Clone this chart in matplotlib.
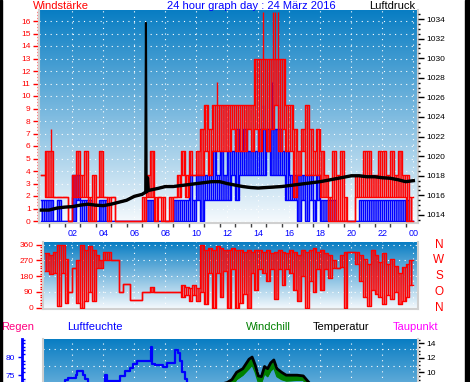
import numpy as np
import matplotlib
matplotlib.use('Agg')
import matplotlib.pyplot as plt
from matplotlib.ticker import MultipleLocator, FixedLocator
from matplotlib.patches import Rectangle
import matplotlib.transforms as mtransforms

plt.rcParams['font.family'] = ['Liberation Sans', 'DejaVu Sans']
plt.rcParams['hatch.linewidth'] = 1.15

# ---------------- DATA ----------------
# 15-minute bins (00:00 .. 23:45): typical high and low reading inside each bin
bin_hours = [k / 4 for k in range(96)]

gust_hi = [3.7, 5.6, 5.6, 1.9, 1.9, 1.9, 1.9, 0, 3.7, 5.6, 3.7, 5.6,
           1.9, 3.7, 1.9, 5.6, 1.9, 1.9, 1.9, 0, 0, 0, 0, 0,
           0, 0, 1.9, 3.7, 5.6, 1.9, 1.9, 1.9, 0, 1.9, 1.9, 3.7,
           5.6, 3.7, 5.6, 3.7, 5.6, 7.4, 9.3, 7.4, 9.3, 9.3, 9.3, 9.3,
           9.3, 9.3, 9.3, 9.3, 9.3, 9.3, 9.3, 13.0, 13.0, 13.0, 13.0, 13.0,
           13.0, 13.0, 13.0, 9.3, 9.3, 7.4, 5.6, 7.4, 9.3, 7.4, 5.6, 7.4,
           5.6, 3.7, 1.9, 5.6, 3.7, 5.6, 1.9, 0, 0, 3.7, 3.7, 5.6,
           5.6, 3.7, 3.7, 5.6, 5.6, 3.7, 5.6, 3.7, 5.6, 3.7, 3.7, 1.9]
gust_lo = [3.7, 1.9, 1.9, 1.9, 1.9, 1.9, 1.9, 0, 1.9, 1.9, 1.9, 1.9,
           0, 0, 1.9, 1.9, 1.9, 0, 1.9, 0, 0, 0, 0, 0,
           0, 0, 0, 1.9, 1.9, 0, 1.9, 0, 0, 0, 1.9, 1.9,
           3.7, 1.9, 3.7, 3.7, 3.7, 3.7, 5.6, 3.7, 5.6, 5.6, 5.6, 5.6,
           5.6, 7.4, 5.6, 5.6, 5.6, 7.4, 5.6, 7.4, 5.6, 7.4, 5.6, 7.4,
           9.3, 5.6, 7.4, 5.6, 5.6, 1.9, 3.7, 5.6, 3.7, 3.7, 3.7, 3.7,
           1.9, 1.9, 0, 0, 0, 0, 0, 0, 0, 1.9, 1.9, 1.9,
           1.9, 1.9, 1.9, 1.9, 1.9, 1.9, 1.9, 1.9, 1.9, 1.9, 0, 0]
# single short gust peaks
gust_peak_hours = [0.63, 11.35, 14.3, 14.95, 15.05, 15.25]
gust_peak_vals = [7.4, 11.1, 16.7, 16.7, 16.7, 16.7]

avg_hi = [1.7, 1.7, 1.7, 0, 1.7, 0, 0, 0, 3.7, 3.7, 1.7, 1.7,
          1.7, 0, 0, 1.7, 1.7, 0, 0, 0, 0, 0, 0, 0,
          0, 0, 0, 1.7, 1.7, 0, 0, 0, 0, 0, 1.7, 1.7,
          1.7, 1.7, 3.7, 1.7, 3.7, 3.7, 3.7, 3.7, 5.6, 3.7, 5.6, 3.7,
          5.6, 5.6, 7.4, 5.6, 7.4, 5.6, 5.6, 5.6, 7.4, 7.4, 7.4, 7.4,
          7.4, 7.4, 5.6, 5.6, 3.7, 3.7, 3.7, 3.7, 3.7, 3.7, 1.7, 3.7,
          1.7, 1.7, 1.7, 1.7, 0, 0, 0, 0, 0, 0, 1.7, 1.7,
          1.7, 1.7, 1.7, 1.7, 1.7, 1.7, 1.7, 1.7, 1.7, 1.7, 1.7, 0]
avg_lo = [0, 0, 0, 0, 0, 0, 0, 0, 0, 1.7, 0, 0,
          0, 0, 0, 0, 0, 0, 0, 0, 0, 0, 0, 0,
          0, 0, 0, 0, 0, 0, 0, 0, 0, 0, 0, 0,
          0, 0, 0, 0, 1.7, 0, 1.7, 1.7, 1.7, 1.7, 1.7, 1.7,
          1.7, 3.7, 1.7, 3.7, 3.7, 3.7, 3.7, 3.7, 3.7, 3.7, 5.6, 3.7,
          3.7, 3.7, 3.7, 1.7, 1.7, 1.7, 0, 1.7, 0, 1.7, 0, 1.7,
          0, 0, 0, 0, 0, 0, 0, 0, 0, 0, 0, 0,
          0, 0, 0, 0, 0, 0, 0, 0, 0, 0, 0, 0]
avg_peak_hours = [14.3, 14.9]
avg_peak_vals = [9.3, 11.1]

dir_hi = [np.nan, 310, 300, 320, 360, 360, 280, 90, 225, 270, 360, 330,
          350, 330, 300, 270, 315, 320, 270, 270, 90, 135, 135, 45,
          45, 45, 90, 90, 120, 90, 90, 90, 90, 90, 90, 90,
          130, 120, 110, 130, 110, 360, 330, 340, 330, 350, 340, 330,
          330, 340, 330, 330, 320, 330, 320, 330, 330, 320, 330, 310,
          320, 330, 320, 310, 330, 320, 300, 330, 320, 330, 340, 320,
          330, 310, 300, 270, 225, 300, 315, 315, 315, 315, 300, 280,
          250, 330, 300, 260, 310, 250, 280, 240, 200, 230, 250, 270]
dir_lo = [np.nan, 210, 190, 200, 10, 200, 30, 90, 225, 30, 0, 40,
          90, 40, 225, 225, 270, 270, 270, 270, 90, 135, 135, 45,
          45, 45, 90, 90, 90, 90, 90, 90, 90, 90, 90, 90,
          60, 70, 40, 70, 40, 90, 20, 200, 0, 200, 60, 210,
          0, 220, 0, 30, 80, 0, 200, 100, 220, 200, 150, 220,
          50, 220, 130, 220, 200, 100, 40, 180, 0, 150, 90, 220,
          100, 220, 170, 225, 225, 230, 0, 315, 315, 250, 150, 60,
          10, 100, 80, 60, 20, 70, 50, 90, 20, 40, 60, 130]

pressure_hours = [0.0, 0.5, 1.0, 1.5, 2.0, 2.5, 3.0, 3.5, 4.0, 4.5, 5.0, 5.5, 6.0, 6.5,
                  6.7, 6.75, 6.8, 6.85, 6.9, 7.5, 8.0, 8.5, 9.0, 9.5, 10.0, 10.5, 11.0,
                  11.5, 12.0, 12.5, 13.0, 13.5, 14.0, 14.5, 15.0, 15.5, 16.0, 16.5, 17.0,
                  17.5, 18.0, 18.5, 19.0, 19.5, 20.0, 20.5, 21.0, 21.5, 22.0, 22.5, 23.0,
                  23.5, 24.0]
pressure = [1014.5, 1014.5, 1014.7, 1014.8, 1014.85, 1015.0, 1015.1, 1015.0, 1014.95,
            1015.1, 1015.3, 1015.5, 1015.9, 1016.1, 1016.3, 1033.6, 1016.4, 1017.8,
            1016.5, 1016.7, 1016.9, 1016.9, 1017.0, 1017.1, 1017.2, 1017.3, 1017.4,
            1017.4, 1017.2, 1017.05, 1016.9, 1016.8, 1016.75, 1016.8, 1016.85, 1016.9,
            1017.0, 1017.1, 1017.2, 1017.3, 1017.4, 1017.55, 1017.7, 1017.85, 1018.0,
            1018.0, 1017.9, 1017.9, 1017.8, 1017.75, 1017.6, 1017.4, 1017.5]

hum_hours = [0.0, 1.0, 1.5, 1.75, 2.24, 2.33, 2.67, 2.8, 3.0, 3.5, 4.1, 4.25, 5.08, 5.4,
             5.72, 5.94, 6.15, 7.05, 7.12, 7.33, 7.87, 8.09, 8.62, 8.84, 8.95, 9.1, 9.27,
             9.38, 9.6, 10.0, 11.0, 12.0, 14.0, 16.0, 18.0, 20.0, 22.0, 24.0]
humidity = [70, 72, 73.5, 74.2, 75, 76.1, 75, 74, 72, 71, 75, 73.3, 74.6, 76.1,
            77, 78.2, 79.1, 83, 78.2, 77.8, 77.3, 78.4, 82, 81.3, 79, 76, 74,
            72, 70, 67, 63, 60, 56, 57, 60, 64, 68, 70]

temp_hours = [0, 3, 6, 9, 11, 12, 12.3, 12.6, 13.0, 13.4, 13.6, 13.8, 14.0, 14.2, 14.4,
              14.6, 14.8, 15.0, 15.2, 15.5, 15.8, 16.5, 16.9, 17.3, 18, 20, 22, 24]
temperature = [6, 5, 5, 6.5, 8, 8.6, 9.0, 10, 10.5, 11.8, 12.1, 11, 9.5, 9.4, 10.8,
               10.5, 11.3, 11.7, 10.5, 10, 9.6, 9.6, 9.5, 8.5, 7.5, 6.5, 6, 5.5]
windchill = [5.5, 4.5, 4.8, 6.0, 7.0, 7.6, 8.0, 9.0, 9.6, 10.5, 11.0, 10.0, 8.6, 8.5, 9.8,
             9.4, 10.2, 10.6, 9.4, 9.0, 8.8, 8.9, 8.9, 7.8, 7.0, 6.0, 5.5, 5.0]

time_ticks = [2, 4, 6, 8, 10, 12, 14, 16, 18, 20, 22, 24]
time_labels = ['02', '04', '06', '08', '10', '12', '14', '16', '18', '20', '22', '00']
dir_ticks = [0, 90, 180, 270, 360]
dir_letters = ['N', 'O', 'S', 'W', 'N']
hum_ticks = [75, 80]
temp_ticks = [10, 12, 14]

BIN = 0.25


def draw_band(ax, hi, lo, color, z, outline=True):
    """Densely oscillating reading: hatched band between the low and high reading of each bin."""
    x = bin_hours + [bin_hours[-1] + BIN]
    h = hi + [hi[-1]]
    l = lo + [lo[-1]]
    ax.fill_between(x, l, h, step='post', facecolor='none', edgecolor=color,
                    hatch='|' * 8, lw=0, zorder=z)
    if outline:
        ax.step(x, h, where='post', color=color, lw=1.0, zorder=z)
        ax.step(x, l, where='post', color=color, lw=1.0, zorder=z)


# ---------------- LAYOUT ----------------
W, H = 470, 382
fig = plt.figure(figsize=(W / 100, H / 100), dpi=100)
fig.patch.set_facecolor('white')
PT = 0.72  # points per pixel


def box(x0, y0, x1, y1):
    return [x0 / W, 1 - y1 / H, (x1 - x0) / W, (y1 - y0) / H]


def gradient(ax, top=(8, 125, 195), bot=(246, 250, 253)):
    g = np.linspace(0, 1, 256)[:, None, None]
    c0 = np.array(top)[None, None, :] / 255
    c1 = np.array(bot)[None, None, :] / 255
    img = c0 * (1 - g) + c1 * g
    img = np.repeat(img, 2, axis=1)
    ax.imshow(img, extent=[0, 1, 0, 1], transform=ax.transAxes, aspect='auto',
              zorder=0, interpolation='bilinear')


FRAME = '#d0d0d0'
GRID = dict(color='white', linestyle=(0, (1, 4)), linewidth=0.8)


def frame(ax):
    for s in ['left', 'right', 'bottom']:
        ax.spines[s].set_color(FRAME)
        ax.spines[s].set_linewidth(1.5)
    ax.spines['top'].set_visible(False)


# ---- top panel: wind speed + pressure ----
ax1 = fig.add_axes(box(39, 10, 417.7, 223))
gradient(ax1)
ax1.set_xlim(-0.148, 24.28)
ax1.set_ylim(-0.16, 16.88)
ax1.set_axisbelow(True)
frame(ax1)
draw_band(ax1, avg_hi, avg_lo, '#0000ff', 2)
ax1.vlines(avg_peak_hours, [avg_hi[int(h / BIN)] for h in avg_peak_hours], avg_peak_vals,
           color='#0000ff', lw=1.0, zorder=2)
draw_band(ax1, gust_hi, gust_lo, '#ff0000', 3)
ax1.vlines(gust_peak_hours, [gust_hi[int(h / BIN)] for h in gust_peak_hours], gust_peak_vals,
           color='#ff0000', lw=1.0, zorder=3)
ax1.set_yticks(range(0, 17))
ax1.yaxis.set_minor_locator(MultipleLocator(0.25))
ax1.tick_params(axis='y', which='major', colors='#ff0000', labelsize=6, length=4, width=1, pad=2)
ax1.tick_params(axis='y', which='minor', colors='#ff0000', length=1.5, width=1)
ax1.xaxis.set_major_locator(FixedLocator(time_ticks))
ax1.set_xticklabels(time_labels)
ax1.xaxis.set_minor_locator(FixedLocator([h + 0.5 for h in range(0, 24)]))
ax1.tick_params(axis='x', which='major', length=0, labelsize=6.5, labelcolor='#0000ff', pad=4.5)
ax1.tick_params(axis='x', which='minor', length=3, color='#404040', width=1)
ax1.grid(True, which='major', **GRID)

ax1p = ax1.twinx()
ax1p.set_ylim(1013.18, 1034.92)
ax1p.plot(pressure_hours, pressure, color='black', lw=1.5, zorder=4)
p_arr = np.array(pressure)
p_smooth = np.where(p_arr > 1025, np.nan, p_arr)
ax1p.plot(pressure_hours, p_smooth, color='black', lw=2.4, zorder=4)
for s in ax1p.spines.values():
    s.set_visible(False)
ax1p.yaxis.set_major_locator(MultipleLocator(2))
ax1p.yaxis.set_minor_locator(MultipleLocator(0.5))
ax1p.tick_params(axis='y', which='major', colors='black', labelsize=6, length=4, width=1, pad=2)
ax1p.tick_params(axis='y', which='minor', colors='black', length=1.5, width=1)

# ---- middle panel: wind direction ----
ax2 = fig.add_axes(box(43, 242.3, 417.7, 309))
gradient(ax2)
ax2.set_xlim(0.11, 24.28)
ax2.set_ylim(-7, 373)
ax2.set_axisbelow(True)
frame(ax2)
draw_band(ax2, dir_hi, dir_lo, '#ff0000', 3)
ax2.set_yticks(dir_ticks)
ax2.yaxis.set_minor_locator(MultipleLocator(15))
ax2.tick_params(axis='y', which='major', colors='#ff0000', labelsize=6, length=5, width=1, pad=2)
ax2.tick_params(axis='y', which='minor', colors='#ff0000', length=2, width=1)
ax2.xaxis.set_major_locator(FixedLocator(time_ticks))
ax2.tick_params(axis='x', which='both', length=0, labelbottom=False)
ax2.grid(True, which='major', **GRID)
trans2 = mtransforms.blended_transform_factory(ax2.transAxes, ax2.transData)
for d, lab in zip(dir_ticks, dir_letters):
    ax2.text(1.0566, d, lab, transform=trans2, ha='center', va='center', color='#ff0000',
             fontsize=8.5)

# ---- bottom panel: humidity / temperature ----
ax3 = fig.add_axes(box(43, 339.3, 417.7, 460))
gradient(ax3)
ax3.set_xlim(0.11, 24.28)
ax3.set_ylim(51, 85.1)
ax3.set_axisbelow(True)
for s in ['right', 'top', 'bottom']:
    ax3.spines[s].set_visible(False)
ax3.spines['left'].set_position(('outward', 21 * PT))
ax3.spines['left'].set_color('#0000ff')
ax3.spines['left'].set_linewidth(2)
ax3.step(hum_hours, humidity, where='post', color='#0000ff', lw=1.6, zorder=3)
ax3.yaxis.set_major_locator(FixedLocator(hum_ticks))
ax3.yaxis.set_minor_locator(MultipleLocator(1))
ax3.tick_params(axis='y', which='major', colors='#0000ff', labelsize=6, length=3, width=1, pad=2)
ax3.tick_params(axis='y', which='minor', colors='#0000ff', length=2, width=1, direction='in')
ax3.xaxis.set_major_locator(FixedLocator(time_ticks))
ax3.tick_params(axis='x', which='both', length=0, labelbottom=False)
ax3.yaxis.grid(False)
ax3.xaxis.grid(True, which='major', **GRID)
for yv in [82.5, 77.5]:
    ax3.axhline(yv, zorder=0.6, **GRID)

ax3t = ax3.twinx()
ax3t.set_ylim(-2.1, 14.55)
frame(ax3t)
ax3t.fill_between(temp_hours, windchill, temperature, color='#008000', lw=0, zorder=2)
ax3t.plot(temp_hours, windchill, color='#008000', lw=1.0, zorder=2)
ax3t.plot(temp_hours, temperature, color='black', lw=2.0, zorder=3)
ax3t.yaxis.set_major_locator(FixedLocator(temp_ticks))
ax3t.yaxis.set_minor_locator(MultipleLocator(0.5))
ax3t.tick_params(axis='y', which='major', colors='black', labelsize=6, length=4, width=1, pad=2)
ax3t.tick_params(axis='y', which='minor', colors='black', length=1.5, width=1)


# ---- texts ----
def ftext(x, y, s, **kw):
    fig.text(x / W, 1 - y / H, s, va='center', **kw)


ftext(33, 6, 'Windstärke', color='#ff0000', fontsize=8, ha='left')
ftext(251.5, 6, '24 hour graph day : 24 März 2016', color='#0000ff', fontsize=8, ha='center')
ftext(415, 6, 'Luftdruck', color='black', fontsize=8, ha='right')
ftext(1.5, 326.5, 'Regen', color='#ff0080', fontsize=8, ha='left')
ftext(67, 326.5, 'Luftfeuchte', color='#0000ff', fontsize=8, ha='left')
ftext(246, 326.5, 'Windchill', color='#008000', fontsize=8, ha='left')
ftext(313, 326.5, 'Temperatur', color='black', fontsize=8, ha='left')
ftext(393, 326.5, 'Taupunkt', color='#ff00ff', fontsize=8, ha='left')

# black side borders
fig.patches.append(Rectangle((0, 0), 1.5 / W, 1, transform=fig.transFigure,
                             color='black', zorder=10))
fig.patches.append(Rectangle((465 / W, 0), 5 / W, 1, transform=fig.transFigure,
                             color='black', zorder=10))

fig.savefig('out.png', dpi=100)
